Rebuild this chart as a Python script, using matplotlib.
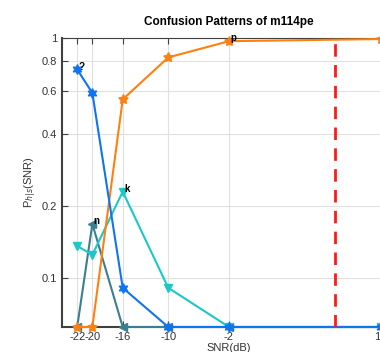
import numpy as np
import matplotlib
matplotlib.use('Agg')
import matplotlib.pyplot as plt
from matplotlib.ticker import FixedLocator, NullLocator

plt.rcParams['font.family'] = ['Liberation Sans', 'DejaVu Sans']

snr = [-22, -20, -16, -10, -2, 18]
p_q = [0.74, 0.59, 0.091, 0, 0, 0]      # '?'
p_p = [0, 0, 0.555, 0.83, 0.97, 0.99]   # 'p'
p_k = [0.136, 0.125, 0.229, 0.091, 0, 0]  # 'k'
p_n = [0, 0.168, 0, 0, 0, 0]            # 'n'
snr_mark = 12
yticks = [0.1, 0.2, 0.4, 0.6, 0.8, 1]
xticks = [-22, -20, -16, -10, -2, 18]

floor = 0.0625  # zeros sit on the bottom of the log axis

fig = plt.figure(figsize=(3.8, 3.52), dpi=100)
ax = fig.add_axes([62/380, 25/352, 334/380, 289/352])

def fl(v):
    return np.maximum(np.array(v, dtype=float), floor)

# marker (n, 1, 0) = star with n points
series = [
    (p_n, '#3b7f8f', '<', 6, 'n', 1),
    (p_k, '#1cc7c7', 'v', 6, 'k', 2),
    (p_p, '#ff800e', (5, 1, 0), 7, 'p', 4),
    (p_q, '#0f74f0', (6, 1, 0), 7, '?', 0),
]
for vals, col, mk, ms, lab, idx in series:
    y = fl(vals)
    ax.plot(snr, y, color=col, marker=mk, markersize=ms, linewidth=1.5,
            markeredgecolor=col, markerfacecolor=col, clip_on=False, zorder=3)
    ax.annotate(lab, (snr[idx], y[idx]), xytext=(1, 2), textcoords='offset points',
                fontsize=7, fontweight='bold', ha='left', va='center', zorder=4)

ax.axvline(snr_mark, color='#ff1a1a', linestyle=(0, (4.5, 3)), linewidth=2, zorder=5)

ax.set_yscale('log')
ax.set_ylim(floor, 1.0)
ax.set_xlim(-24, 20)
ax.yaxis.set_major_locator(FixedLocator(yticks))
ax.yaxis.set_minor_locator(NullLocator())
ax.set_yticklabels(['0.1', '0.2', '0.4', '0.6', '0.8', '1'])
ax.set_xticks(xticks)
ax.set_xticklabels([str(t) for t in xticks])

ax.grid(True, color='#e0e0e0', linewidth=0.8, zorder=0)
ax.set_axisbelow(True)
ax.tick_params(direction='in', length=4, labelsize=8, colors='#404040',
               labelcolor='#333333', top=True, right=True)
for s in ax.spines.values():
    s.set_color('#404040')
    s.set_linewidth(0.8)
ax.spines['left'].set_linewidth(1.5)
ax.spines['bottom'].set_linewidth(1.5)

ax.set_title('Confusion Patterns of m114pe', fontsize=8.5, fontweight='bold', pad=9)
ax.set_xlabel('SNR(dB)', fontsize=8, labelpad=1, color='#333333')
ax.set_ylabel('P$_{h|s}$(SNR)', fontsize=8, labelpad=3, color='#333333')

fig.savefig('out.png', dpi=100)
